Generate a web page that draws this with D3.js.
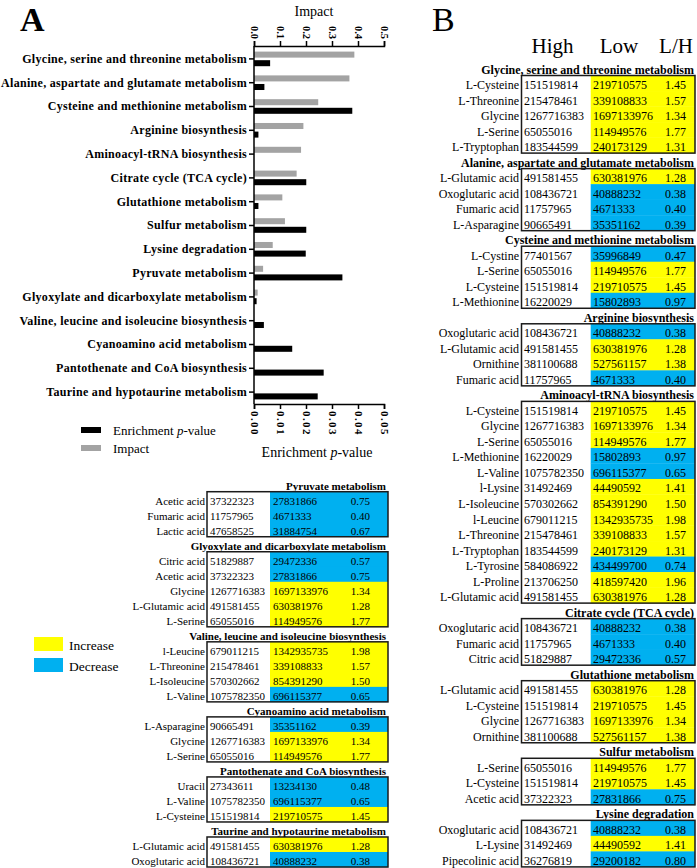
<!DOCTYPE html>
<html><head><meta charset="utf-8">
<script src="https://cdn.jsdelivr.net/npm/d3@7"></script>
<style>body{margin:0;background:#fff}svg{display:block;font-family:"Liberation Serif","Times New Roman",serif}</style>
</head><body><svg id="c" width="697" height="868" font-family="Liberation Serif, Times New Roman, serif"></svg>
<script>
// ---------- Panel A data ----------
const categories = [
  "Glycine, serine and threonine metabolism",
  "Alanine, aspartate and glutamate metabolism",
  "Cysteine and methionine metabolism",
  "Arginine biosynthesis",
  "Aminoacyl-tRNA biosynthesis",
  "Citrate cycle (TCA cycle)",
  "Glutathione metabolism",
  "Sulfur metabolism",
  "Lysine degradation",
  "Pyruvate metabolism",
  "Glyoxylate and dicarboxylate metabolism",
  "Valine, leucine and isoleucine biosynthesis",
  "Cyanoamino acid metabolism",
  "Pantothenate and CoA biosynthesis",
  "Taurine and hypotaurine metabolism"
];
const impact = [0.386, 0.367, 0.247, 0.190, 0.181, 0.164, 0.109, 0.119, 0.072, 0.035, 0.014, 0, 0, 0, 0];
const pValue = [0.0062, 0.0040, 0.0378, 0.0017, 0, 0.0201, 0.0017, 0.0201, 0.0199, 0.0340, 0.0010, 0.0038, 0.0147, 0.0268, 0.0245];
const impactTicks = [0, 0.1, 0.2, 0.3, 0.4, 0.5];
const pTicks = [0, 0.01, 0.02, 0.03, 0.04, 0.05];
const legendA = ["Enrichment p-value", "Impact"];
const legendColor = ["Increase", "Decrease"];
const headers = ["High", "Low", "L/H"];

// ---------- Tables (name, High, Low, L/H) ----------
const pyruvateRows = [["Acetic acid",37322323,27831866,"0.75"],["Fumaric acid",11757965,4671333,"0.40"],["Lactic acid",47658525,31884754,"0.67"]];
const glyoxylateRows = [["Citric acid",51829887,29472336,"0.57"],["Acetic acid",37322323,27831866,"0.75"],["Glycine",1267716383,1697133976,"1.34"],["L-Glutamic acid",491581455,630381976,"1.28"],["L-Serine",65055016,114949576,"1.77"]];
const valineRows = [["l-Leucine",679011215,1342935735,"1.98"],["L-Threonine",215478461,339108833,"1.57"],["L-Isoleucine",570302662,854391290,"1.50"],["L-Valine",1075782350,696115377,"0.65"]];
const cyanoRows = [["L-Asparagine",90665491,35351162,"0.39"],["Glycine",1267716383,1697133976,"1.34"],["L-Serine",65055016,114949576,"1.77"]];
const pantoRows = [["Uracil",27343611,13234130,"0.48"],["L-Valine",1075782350,696115377,"0.65"],["L-Cysteine",151519814,219710575,"1.45"]];
const taurineRows = [["L-Glutamic acid",491581455,630381976,"1.28"],["Oxoglutaric acid",108436721,40888232,"0.38"]];

const glycineRows = [["L-Cysteine",151519814,219710575,"1.45"],["L-Threonine",215478461,339108833,"1.57"],["Glycine",1267716383,1697133976,"1.34"],["L-Serine",65055016,114949576,"1.77"],["L-Tryptophan",183544599,240173129,"1.31"]];
const alanineRows = [["L-Glutamic acid",491581455,630381976,"1.28"],["Oxoglutaric acid",108436721,40888232,"0.38"],["Fumaric acid",11757965,4671333,"0.40"],["L-Asparagine",90665491,35351162,"0.39"]];
const cysteineRows = [["L-Cystine",77401567,35996849,"0.47"],["L-Serine",65055016,114949576,"1.77"],["L-Cysteine",151519814,219710575,"1.45"],["L-Methionine",16220029,15802893,"0.97"]];
const arginineRows = [["Oxoglutaric acid",108436721,40888232,"0.38"],["L-Glutamic acid",491581455,630381976,"1.28"],["Ornithine",381100688,527561157,"1.38"],["Fumaric acid",11757965,4671333,"0.40"]];
const aminoacylRows = [["L-Cysteine",151519814,219710575,"1.45"],["Glycine",1267716383,1697133976,"1.34"],["L-Serine",65055016,114949576,"1.77"],["L-Methionine",16220029,15802893,"0.97"],["L-Valine",1075782350,696115377,"0.65"],["l-Lysine",31492469,44490592,"1.41"],["L-Isoleucine",570302662,854391290,"1.50"],["l-Leucine",679011215,1342935735,"1.98"],["L-Threonine",215478461,339108833,"1.57"],["L-Tryptophan",183544599,240173129,"1.31"],["L-Tyrosine",584086922,434499700,"0.74"],["L-Proline",213706250,418597420,"1.96"],["L-Glutamic acid",491581455,630381976,"1.28"]];
const citrateRows = [["Oxoglutaric acid",108436721,40888232,"0.38"],["Fumaric acid",11757965,4671333,"0.40"],["Citric acid",51829887,29472336,"0.57"]];
const glutathioneRows = [["L-Glutamic acid",491581455,630381976,"1.28"],["L-Cysteine",151519814,219710575,"1.45"],["Glycine",1267716383,1697133976,"1.34"],["Ornithine",381100688,527561157,"1.38"]];
const sulfurRows = [["L-Serine",65055016,114949576,"1.77"],["L-Cysteine",151519814,219710575,"1.45"],["Acetic acid",37322323,27831866,"0.75"]];
const lysineRows = [["Oxoglutaric acid",108436721,40888232,"0.38"],["L-Lysine",31492469,44490592,"1.41"],["Pipecolinic acid",36276819,29200182,"0.80"]];

const leftTables = [
  {title:"Pyruvate metabolism", rows:pyruvateRows},
  {title:"Glyoxylate and dicarboxylate metabolism", rows:glyoxylateRows},
  {title:"Valine, leucine and isoleucine biosynthesis", rows:valineRows},
  {title:"Cyanoamino acid metabolism", rows:cyanoRows},
  {title:"Pantothenate and CoA biosynthesis", rows:pantoRows},
  {title:"Taurine and hypotaurine metabolism", rows:taurineRows}
];
const rightTables = [
  {title:"Glycine, serine and threonine metabolism", rows:glycineRows},
  {title:"Alanine, aspartate and glutamate metabolism", rows:alanineRows},
  {title:"Cysteine and methionine metabolism", rows:cysteineRows},
  {title:"Arginine biosynthesis", rows:arginineRows},
  {title:"Aminoacyl-tRNA biosynthesis", rows:aminoacylRows},
  {title:"Citrate cycle (TCA cycle)", rows:citrateRows},
  {title:"Glutathione metabolism", rows:glutathioneRows},
  {title:"Sulfur metabolism", rows:sulfurRows},
  {title:"Lysine degradation", rows:lysineRows}
];

const YELLOW = "#ffff00", BLUE = "#00b0f0", GRAY = "#a3a3a3";
const FONT = "Liberation Serif, Times New Roman, serif";
const svg = d3.select("#c");

// ---------- Panel letters ----------
svg.append("text").attr("x", 20).attr("y", 30.5).attr("font-size", 34).attr("font-weight", "bold").text("A");
svg.append("text").attr("x", 432).attr("y", 30.5).attr("font-size", 34).text("B");

// ---------- Bar chart ----------
const yScale = d3.scaleBand().domain(categories).range([47, 404]).paddingInner(0.386).paddingOuter(0.193);
const ySub = d3.scaleBand().domain(["impact", "p"]).range([0, yScale.bandwidth()]).paddingInner(0.3);
const xI = d3.scaleLinear().domain([0, 0.5]).range([254, 384]);
const xP = d3.scaleLinear().domain([0, 0.05]).range([254, 384]);

const barData = categories.map((c, i) => ({c, impact: impact[i], p: pValue[i]}));
svg.append("g").selectAll("rect").data(barData).join("rect")
  .attr("x", xI(0)).attr("y", d => yScale(d.c) + ySub("impact"))
  .attr("width", d => xI(d.impact) - xI(0)).attr("height", ySub.bandwidth()).attr("fill", GRAY);
svg.append("g").selectAll("rect").data(barData).join("rect")
  .attr("x", xP(0)).attr("y", d => yScale(d.c) + ySub("p"))
  .attr("width", d => xP(d.p) - xP(0)).attr("height", ySub.bandwidth()).attr("fill", "#000");

function styleAxis(g) {
  g.attr("font-family", FONT);
  g.selectAll("path,line").attr("stroke", "#000").attr("stroke-width", 1.5);
  g.selectAll("text").attr("font-family", FONT).attr("font-weight", "bold").attr("fill", "#000");
}
const topAxisG = svg.append("g").attr("transform", "translate(0,46)")
  .call(d3.axisTop(xI).tickValues(impactTicks).tickFormat(d3.format(".1f")).tickSize(5));
styleAxis(topAxisG);
topAxisG.selectAll(".tick text").attr("font-size", 10.5).attr("x", 0).attr("y", 0).attr("dy", "0.35em")
  .attr("text-anchor", "end").attr("transform", "translate(0,-7) rotate(90)");

const bottomAxisG = svg.append("g").attr("transform", "translate(0,404)")
  .call(d3.axisBottom(xP).tickValues(pTicks).tickFormat(d3.format(".2f")).tickSize(5));
styleAxis(bottomAxisG);
bottomAxisG.selectAll(".tick text").attr("font-size", 11).attr("letter-spacing", 1.4).attr("x", 0).attr("y", 0).attr("dy", "0.35em")
  .attr("text-anchor", "start").attr("transform", "translate(0,7) rotate(90)");

const leftAxisG = svg.append("g").attr("transform", "translate(254,0)")
  .call(d3.axisLeft(yScale).tickSize(5).tickSizeOuter(0).tickPadding(2));
styleAxis(leftAxisG);
leftAxisG.select(".domain").attr("d", "M0,46V404");
leftAxisG.selectAll(".tick text").attr("font-size", 12).attr("letter-spacing", 0.3);

svg.append("text").attr("x", 314).attr("y", 16).attr("text-anchor", "middle").attr("font-size", 14).text("Impact");
const bt = svg.append("text").attr("x", 317).attr("y", 457).attr("text-anchor", "middle").attr("font-size", 14);
bt.append("tspan").text("Enrichment ");
bt.append("tspan").attr("font-style", "italic").text("p");
bt.append("tspan").text("-value");

// legend A
const legA = svg.append("g");
[["#000", 427, legendA[0]], [GRAY, 445, legendA[1]]].forEach(([col, yy, lab]) => {
  legA.append("rect").attr("x", 81).attr("y", yy).attr("width", 20).attr("height", 6).attr("fill", col);
  const t = legA.append("text").attr("x", 113).attr("y", yy + 3).attr("dy", "0.35em").attr("font-size", 13);
  if (lab.indexOf("p-") === 11) {
    t.append("tspan").text("Enrichment ");
    t.append("tspan").attr("font-style", "italic").text("p");
    t.append("tspan").text("-value");
  } else t.text(lab);
});

// legend colors
[[YELLOW, 637, legendColor[0]], [BLUE, 658, legendColor[1]]].forEach(([col, yy, lab]) => {
  svg.append("rect").attr("x", 34).attr("y", yy).attr("width", 29).attr("height", 14).attr("fill", col);
  svg.append("text").attr("x", 69).attr("y", yy + 8).attr("dy", "0.35em").attr("font-size", 13.5).text(lab);
});

// ---------- Tables ----------
function drawTables(tables, o) {
  const nLines = tables.reduce((s, t) => s + 1 + t.rows.length, 0);
  const ly = d3.scaleLinear().domain([0, nLines - 1]).range(o.yRange);
  const p = ly(1) - ly(0);
  const g = svg.append("g").attr("font-family", FONT);
  let k = 0;
  tables.forEach(t => {
    g.append("text").attr("x", o.titleX).attr("y", ly(k)).attr("dy", "0.35em").attr("text-anchor", "end")
      .attr("font-weight", "bold").attr("font-size", o.titleFont).text(t.title);
    k++;
    const k0 = k;
    t.rows.forEach(r => {
      const cy = ly(k);
      g.append("rect").attr("x", o.lowX0).attr("y", cy - 0.6 * p).attr("width", o.boxR - o.lowX0).attr("height", p + 0.3)
        .attr("fill", parseFloat(r[3]) > 1 ? YELLOW : BLUE);
      g.append("text").attr("x", o.nameX).attr("y", cy).attr("dy", "0.35em").attr("text-anchor", "end").attr("font-size", o.font).text(r[0]);
      g.append("text").attr("x", o.highX).attr("y", cy).attr("dy", "0.35em").attr("font-size", o.font).text(r[1]);
      g.append("text").attr("x", o.lowX).attr("y", cy).attr("dy", "0.35em").attr("font-size", o.font).text(r[2]);
      g.append("text").attr("x", o.ratioX).attr("y", cy).attr("dy", "0.35em").attr("text-anchor", "end").attr("font-size", o.font).text(r[3]);
      k++;
    });
    const yTop = ly(k0) - 0.6 * p, yBot = ly(k - 1) + 0.4 * p;
    g.append("rect").attr("x", o.boxX).attr("y", yTop).attr("width", o.boxR - o.boxX).attr("height", yBot - yTop)
      .attr("fill", "none").attr("stroke", "#1a1a1a").attr("stroke-width", 1.5);
  });
}
drawTables(leftTables, {yRange:[485.7, 861], nameX:205, boxX:207, boxR:388, highX:210, lowX0:270, lowX:273, ratioX:370, titleX:386, font:11, titleFont:11});
drawTables(rightTables, {yRange:[69.3, 860.7], nameX:519, boxX:521.5, boxR:695, highX:524, lowX0:590.7, lowX:593, ratioX:686, titleX:694, font:12, titleFont:12});

// headers
[[552.5, headers[0]], [619, headers[1]], [676, headers[2]]].forEach(([x, h]) => {
  svg.append("text").attr("x", x).attr("y", 53).attr("text-anchor", "middle").attr("font-size", 21).text(h);
});
</script></body></html>
